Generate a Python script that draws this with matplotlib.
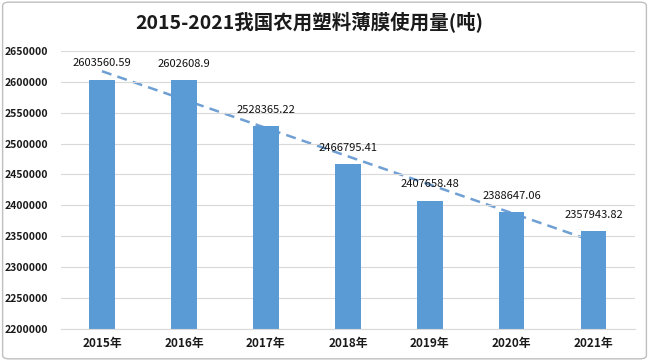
import matplotlib
matplotlib.use("Agg")
from matplotlib import pyplot as plt
from matplotlib.patches import FancyBboxPatch
import numpy as np

plt.rcParams['font.family'] = ['Noto Sans CJK SC', 'DejaVu Sans']

# data
years = ['2015年', '2016年', '2017年', '2018年', '2019年', '2020年', '2021年']
usage = [2603560.59, 2602608.9, 2528365.22, 2466795.41, 2407658.48, 2388647.06, 2357943.82]
labels = ['2603560.59', '2602608.9', '2528365.22', '2466795.41', '2407658.48', '2388647.06', '2357943.82']

bar_color = '#5B9BD5'

fig = plt.figure(figsize=(6.49, 3.61), dpi=100)
ax = fig.add_axes([0.094, 0.089, 0.884, 0.77])

x = np.arange(len(years))
ax.bar(x, usage, width=0.31, color=bar_color, zorder=2)

# linear trend line (drawn under the bars, like the original)
k, b = np.polyfit(x, usage, 1)
ax.plot(x, k * x + b, linestyle=(0, (4, 2.5)), color='#6F9FD3', linewidth=1.8, zorder=1.5)

# data labels above bars
for i, v in enumerate(usage):
    ax.annotate(labels[i], (x[i], v), xytext=(0, 8), textcoords='offset points',
                ha='center', va='bottom', fontsize=8, color='#111111', zorder=4)

ticks = np.arange(2200000, 2650001, 50000)
ax.set_ylim(2200000, 2650000)
ax.set_yticks(ticks)
ax.set_yticklabels([str(t) for t in ticks], fontsize=7.5, fontweight='bold', color='#1a1a1a')
ax.set_xlim(-0.5, len(years) - 0.5)
ax.set_xticks(x)
ax.set_xticklabels(years, fontsize=8.5, fontweight='bold', color='#1a1a1a')

ax.grid(axis='y', color='#D9D9D9', linewidth=0.8, zorder=0)
for s in ['top', 'right', 'left']:
    ax.spines[s].set_visible(False)
ax.spines['bottom'].set_color('#D9D9D9')
ax.tick_params(axis='y', length=0, pad=9)
ax.tick_params(axis='x', length=0, pad=6)

fig.text(0.476, 0.94, '2015-2021我国农用塑料薄膜使用量(吨)', ha='center', va='center',
         fontsize=14, fontweight='bold', color='#1a1a1a')

# outer border
border = FancyBboxPatch((0.004, 0.006), 0.992, 0.988, boxstyle='round,pad=0,rounding_size=0.01',
                        transform=fig.transFigure, facecolor='none', edgecolor='#BFBFBF', linewidth=1)
fig.patches.append(border)

fig.savefig('out.png', dpi=100)
